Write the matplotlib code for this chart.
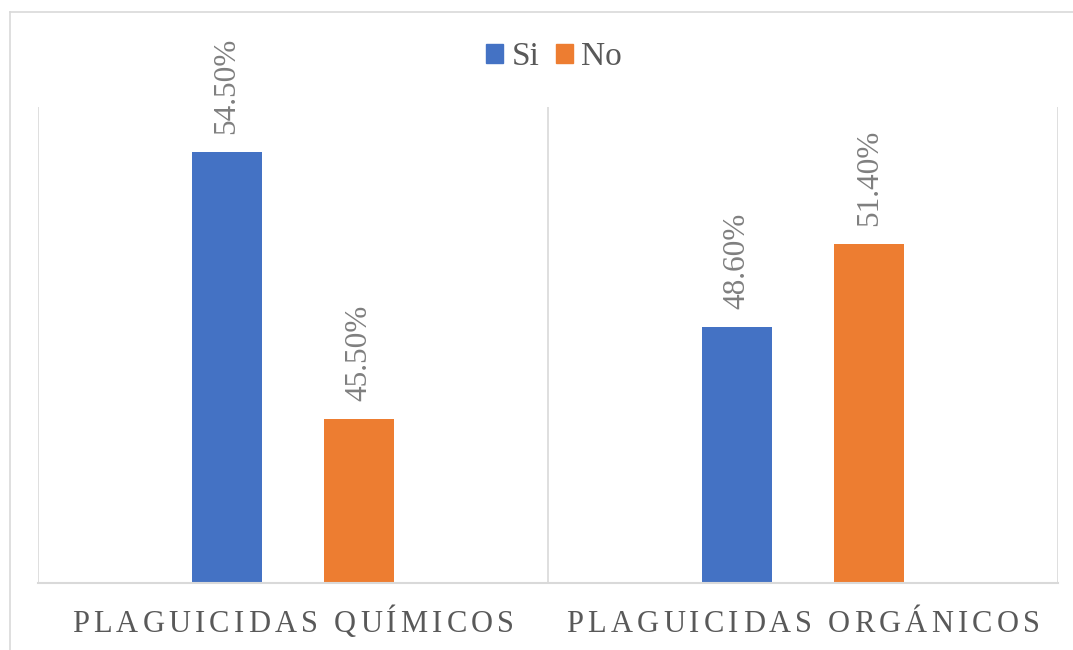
import matplotlib
matplotlib.use("Agg")
import matplotlib.pyplot as plt
from matplotlib.lines import Line2D
from matplotlib.patches import Patch
from matplotlib.font_manager import FontProperties

categories = ["PLAGUICIDAS QUÍMICOS", "PLAGUICIDAS ORGÁNICOS"]
series_names = ["Si", "No"]
si_values = [54.5, 48.6]
no_values = [45.5, 51.4]
colors = ["#4472C4", "#ED7D31"]

W, H = 1073, 650
fig = plt.figure(figsize=(W / 100, H / 100), dpi=100)
plt.rcParams['font.family'] = ['Liberation Serif', 'DejaVu Serif']

ax = fig.add_axes([38 / W, 1 - 583 / H, (1058 - 38) / W, (583 - 107) / H])
ax.set_xlim(-0.5, 1.5)
ax.set_ylim(40, 56)

bw = 0.137
off = 0.13
x = list(range(len(categories)))
for vals, c, sgn in [(si_values, colors[0], -1), (no_values, colors[1], 1)]:
    bars = ax.bar([i + sgn * off for i in x], vals, width=bw, color=c, zorder=2)
    for b, v in zip(bars, vals):
        ax.annotate(f"{v:.2f}%", (b.get_x() + b.get_width() / 2, v),
                    xytext=(0, 13), textcoords="offset points",
                    rotation=90, ha="center", va="bottom",
                    fontsize=22.5, color="#7F7F7F")

# category separators
for xv in [-0.5, 0.5, 1.5]:
    ax.axvline(xv, color="#D9D9D9", lw=1.2, zorder=1)
for s in ["top", "left", "right"]:
    ax.spines[s].set_visible(False)
ax.spines["bottom"].set_color("#D9D9D9")
ax.spines["bottom"].set_linewidth(1.5)
ax.set_yticks([])
ax.set_xticks([])

# letter-spaced category labels
renderer = fig.canvas.get_renderer()
fp = FontProperties(family="Liberation Serif", size=22)
spacing = 4.2
for i, lab in enumerate(categories):
    widths = [renderer.get_text_width_height_descent(ch, fp, ismath=False)[0] for ch in lab]
    total = sum(widths) + spacing * (len(lab) - 1)
    cx = ax.transData.transform((i, 40))[0]
    pos = cx - total / 2
    for ch, w in zip(lab, widths):
        fig.text(pos / W, 1 - 632 / H, ch, fontproperties=fp, color="#595959",
                 ha="left", va="baseline")
        pos += w + spacing

# legend
handles = [Patch(color=c) for c in colors]
fig.legend(handles, series_names, loc="center", bbox_to_anchor=(554 / W, 1 - 57 / H),
           ncol=2, frameon=False, fontsize=24, handlelength=0.5, handleheight=0.5,
           handletextpad=0.25, columnspacing=0.5, labelcolor="#595959")

# chart border
fig.add_artist(Line2D([10 / W, 10 / W], [0, 1 - 12 / H], color="#D9D9D9", lw=1.2, transform=fig.transFigure))
fig.add_artist(Line2D([10 / W, 1], [1 - 12 / H, 1 - 12 / H], color="#D9D9D9", lw=1.2, transform=fig.transFigure))

fig.savefig("out.png", dpi=100)
